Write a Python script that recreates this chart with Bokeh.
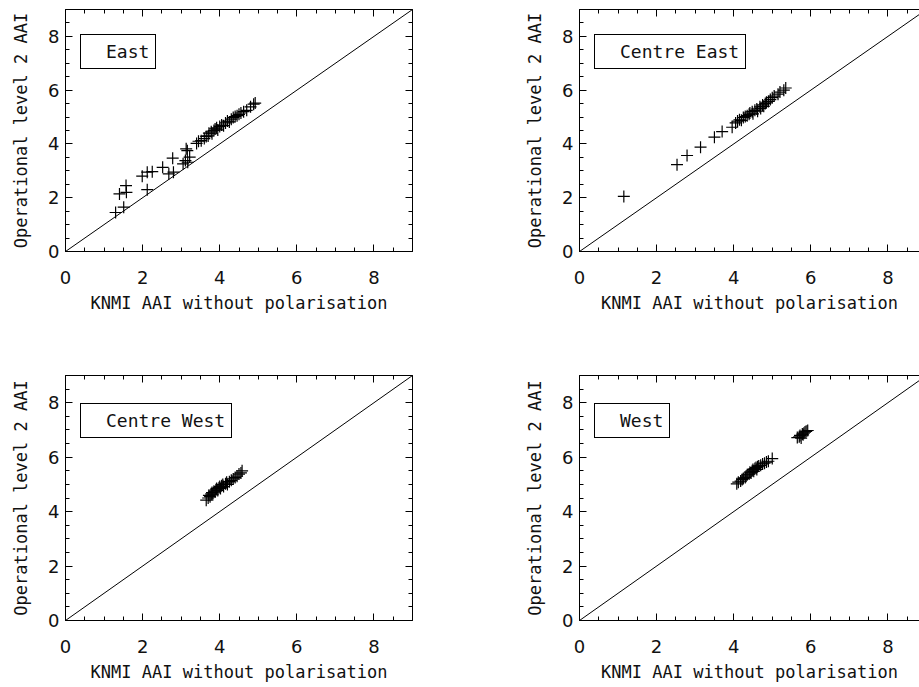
from bokeh.plotting import figure
from bokeh.layouts import column, row
from bokeh.models import (Range1d, SingleIntervalTicker, FixedTicker, LinearAxis,
                          Slope, Legend, LegendItem)
from bokeh.embed import file_html
from bokeh.resources import INLINE

# ---------------- data ----------------
east_x = [1.30, 1.51, 1.40, 1.58, 1.57, 2.12, 1.99, 2.12, 2.25, 2.52, 2.78, 2.68,
          2.80, 3.05, 3.17, 3.22, 3.13, 3.11, 3.16,
          3.40, 3.45, 3.52, 3.60, 3.65, 3.70, 3.72, 3.78, 3.80, 3.85, 3.88, 3.92,
          3.95, 4.00, 4.05, 4.10, 4.15, 4.20, 4.25, 4.30, 4.35, 4.40, 4.45, 4.50,
          4.55, 4.62, 4.70, 4.80, 4.88, 4.92]
east_y = [1.45, 1.65, 2.14, 2.20, 2.45, 2.30, 2.80, 2.95, 2.97, 3.13, 3.47, 2.89,
          2.95, 3.26, 3.32, 3.51, 3.82, 3.38, 3.75,
          4.02, 4.10, 4.12, 4.20, 4.28, 4.30, 4.40, 4.45, 4.38, 4.50, 4.56, 4.60,
          4.52, 4.65, 4.70, 4.68, 4.78, 4.85, 4.82, 4.92, 4.98, 5.02, 5.05, 5.10,
          5.15, 5.20, 5.25, 5.38, 5.48, 5.52]

ceast_x = [1.15, 2.53, 2.79, 3.14, 3.50, 3.70, 3.96,
           4.05, 4.10, 4.15, 4.20, 4.25, 4.30, 4.35, 4.40, 4.42, 4.48, 4.50, 4.55,
           4.60, 4.62, 4.68, 4.70, 4.75, 4.78, 4.82, 4.85, 4.90, 4.95, 5.00, 5.05,
           5.15, 5.20, 5.30, 5.35]
ceast_y = [2.05, 3.23, 3.57, 3.88, 4.25, 4.46, 4.62,
           4.78, 4.85, 4.90, 4.88, 4.98, 5.02, 5.05, 5.10, 5.15, 5.20, 5.12, 5.25,
           5.30, 5.22, 5.38, 5.32, 5.45, 5.40, 5.50, 5.55, 5.58, 5.65, 5.72, 5.78,
           5.85, 5.93, 6.00, 6.08]

cwest_x = [3.65, 3.70, 3.72, 3.75, 3.78, 3.80, 3.82, 3.85, 3.88, 3.90, 3.92, 3.95,
           3.98, 4.00, 4.02, 4.05, 4.08, 4.10, 4.15, 4.18, 4.20, 4.25, 4.30, 4.35,
           4.40, 4.45, 4.50, 4.55, 4.58]
cwest_y = [4.42, 4.50, 4.60, 4.55, 4.65, 4.70, 4.62, 4.75, 4.72, 4.80, 4.85, 4.78,
           4.88, 4.92, 4.85, 4.95, 5.00, 4.92, 5.02, 5.08, 5.00, 5.10, 5.15, 5.20,
           5.25, 5.30, 5.38, 5.42, 5.50]

west_x = [4.08, 4.12, 4.18, 4.22, 4.25, 4.30, 4.32, 4.35, 4.40, 4.42, 4.45, 4.48,
          4.50, 4.52, 4.55, 4.58, 4.60, 4.62, 4.65, 4.70, 4.75, 4.80, 4.85, 4.90,
          5.00,
          5.65, 5.70, 5.72, 5.75, 5.78, 5.80, 5.82, 5.85, 5.88, 5.92]
west_y = [5.02, 5.08, 5.12, 5.18, 5.22, 5.25, 5.30, 5.35, 5.38, 5.45, 5.42, 5.50,
          5.55, 5.48, 5.58, 5.62, 5.55, 5.65, 5.68, 5.70, 5.75, 5.78, 5.82, 5.85,
          5.95,
          6.72, 6.75, 6.80, 6.70, 6.85, 6.82, 6.88, 6.92, 6.95, 6.98]

region_names = ["East", "Centre East", "Centre West", "West"]
x_title = "KNMI AAI without polarisation"
y_title = "Operational level 2 AAI"

major_ticks = [0, 2, 4, 6, 8]
minor_ticks = [0.5, 1, 1.5, 2.5, 3, 3.5, 4.5, 5, 5.5, 6.5, 7, 7.5, 8.5]

# ---------------- styling ----------------
TICK_FONT = "DejaVu Sans"
LABEL_FONT = "DejaVu Sans Mono"
INK = "#111111"


def style_main_axis(ax):
    ax.ticker = SingleIntervalTicker(interval=2, num_minor_ticks=4)
    ax.major_tick_in = 7
    ax.major_tick_out = 0
    ax.minor_tick_in = 4
    ax.minor_tick_out = 0
    ax.axis_line_color = "black"
    ax.major_tick_line_color = "black"
    ax.minor_tick_line_color = "black"
    ax.major_label_text_font = TICK_FONT
    ax.major_label_text_font_size = "18px"
    ax.major_label_text_color = INK
    ax.axis_label_text_font = LABEL_FONT
    ax.axis_label_text_font_size = "17px"
    ax.axis_label_text_font_style = "normal"
    ax.axis_label_text_color = INK


def bare_axis(tick_list, length):
    # an axis with only (unlabelled) minor-style ticks pointing inward
    ax = LinearAxis(ticker=FixedTicker(ticks=[], minor_ticks=tick_list))
    ax.major_tick_in = 0
    ax.major_tick_out = 0
    ax.minor_tick_in = length
    ax.minor_tick_out = 0
    ax.minor_tick_line_color = "black"
    ax.axis_line_color = "black"
    ax.major_label_standoff = 0
    ax.axis_label_standoff = 0
    return ax


def panel(xs, ys, name, x_end, b_left, b_right, b_top, b_bottom, fw, fh, with_right):
    p = figure(frame_width=fw, frame_height=fh,
               x_range=Range1d(0, x_end), y_range=Range1d(0, 9),
               output_backend="svg", toolbar_location=None,
               min_border_left=b_left, min_border_right=b_right,
               min_border_top=b_top, min_border_bottom=b_bottom,
               outline_line_color=None, background_fill_color="white",
               border_fill_color="white")
    p.xgrid.visible = False
    p.ygrid.visible = False

    xa = p.xaxis[0]
    ya = p.yaxis[0]
    style_main_axis(xa)
    style_main_axis(ya)
    xa.axis_label = x_title
    ya.axis_label = y_title
    xa.major_label_standoff = 19
    xa.axis_label_standoff = 6
    ya.major_label_standoff = 6
    ya.axis_label_standoff = 14

    p.add_layout(bare_axis(minor_ticks, 4), "above")
    p.add_layout(bare_axis(major_ticks, 7), "above")
    if with_right:
        p.add_layout(bare_axis(minor_ticks, 4), "right")
        p.add_layout(bare_axis(major_ticks, 7), "right")

    p.add_layout(Slope(gradient=1, y_intercept=0, line_color="black", line_width=1))

    p.scatter(xs, ys, marker="cross", size=12, line_color="black", line_width=1.2)

    dummy = p.scatter(x=[], y=[], marker="square", line_alpha=0, fill_alpha=0)
    leg = Legend(items=[LegendItem(label=name, renderers=[dummy])],
                 location=(15, 182), margin=0, padding=6,
                 glyph_width=14, glyph_height=16, label_standoff=5,
                 label_height=20, spacing=0,
                 border_line_color="black", border_line_width=1,
                 border_line_alpha=1,
                 background_fill_color="white", background_fill_alpha=1,
                 label_text_font=LABEL_FONT, label_text_font_size="18px",
                 label_text_color=INK)
    p.add_layout(leg)
    return p


p1 = panel(east_x, east_y, region_names[0], 9.0, 65, 48, 9, 117, 347, 242, True)
p2 = panel(ceast_x, ceast_y, region_names[1], 8.82, 119, 0, 9, 117, 340, 242, False)
p3 = panel(cwest_x, cwest_y, region_names[2], 9.0, 65, 48, 7, 67, 347, 245, True)
p4 = panel(west_x, west_y, region_names[3], 8.82, 119, 0, 7, 67, 340, 245, False)

layout = column(row(p1, p2), row(p3, p4))

open("out.html", "w").write(file_html(layout, INLINE))
